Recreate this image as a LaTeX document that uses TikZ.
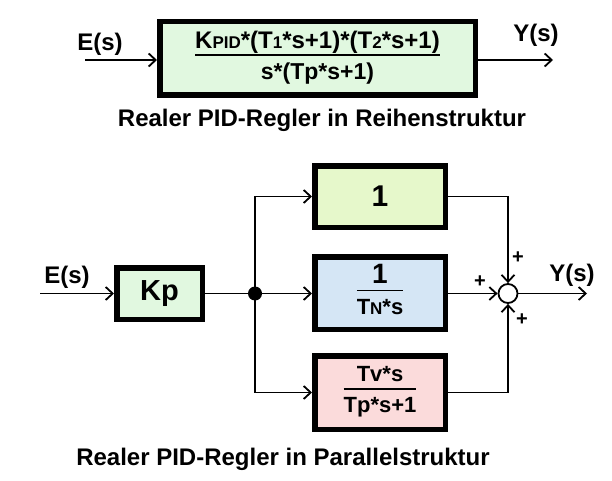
\documentclass[tikz,border=0pt]{standalone}
\usepackage{fontspec}
\setmainfont{Liberation Sans}
\usetikzlibrary{arrows.meta,shadows}
\definecolor{cgreen}{HTML}{E1F8E0}
\definecolor{cyel}{HTML}{E6F8CB}
\definecolor{cblue}{HTML}{D5E6F5}
\definecolor{cpink}{HTML}{FBDBDB}
\newcommand{\myfrac}[2]{\setlength\arrayrulewidth{1.8pt}\begin{tabular}{@{}c@{}}#1\\[-1pt]\hline\rule{0pt}{1.05em}#2\end{tabular}}
\newcommand{\sml}[1]{{\fontsize{17}{17}\selectfont #1}}
\newcommand{\fsz}[1]{\fontsize{#1}{#1}\selectfont}
\begin{document}
\begin{tikzpicture}[x=1pt,y=-1pt,
  blk/.style={draw=black, line width=5.5pt, inner sep=0pt,
    font=\bfseries\fontsize{22}{24}\selectfont,
    drop shadow={shadow xshift=2.5pt,shadow yshift=-2.5pt,fill=black,opacity=0.3}},
  conn/.style={line width=1.8pt, -{Straight Barb[length=7pt,width=13pt]}},
  plain/.style={line width=1.8pt},
  lbl/.style={font=\bfseries\fontsize{24}{26}\selectfont, inner sep=0pt},
  pls/.style={font=\bfseries\fontsize{20}{20}\selectfont, inner sep=0pt},
  captxt/.style={font=\bfseries\fontsize{24}{26}\selectfont, inner sep=0pt}]
\useasboundingbox (0,0) rectangle (612,481);
% --- series structure
\node[blk, fill=cgreen, minimum width=315.5pt, minimum height=73.5pt] (ser) at (317.5,58.5)
  {\myfrac{\fsz{24}K\sml{PID}*(T\sml{1}*s+1)*(T\sml{2}*s+1)}{\fsz{23}s*(Tp*s+1)}};
\node[lbl] (es1) at (100,44) {E(s)};
\node[lbl] (ys1) at (536,35) {Y(s)};
\coordinate (in1) at (85,60);
\coordinate (out1) at (553,60);
\draw[conn] (in1) -- (ser.west |- in1);
\draw[conn] (ser.east |- out1) -- (out1);
\node[captxt] (cap1) at (322,120) {Realer PID-Regler in Reihenstruktur};
% --- parallel structure
\node[blk, fill=cgreen, minimum width=85.5pt, minimum height=51.5pt, font=\bfseries\fontsize{29}{30}\selectfont] (kp) at (159.5,293.5) {Kp};
\node[blk, fill=cyel, minimum width=130.5pt, minimum height=61.5pt, font=\bfseries\fontsize{30}{30}\selectfont] (b1) at (380,196.5) {1};
\node[blk, fill=cblue, minimum width=130.5pt, minimum height=72.5pt] (b2) at (380,293) {\myfrac{\fsz{28}1}{T\sml{N}*s}};
\node[blk, fill=cpink, minimum width=130.5pt, minimum height=73.5pt] (b3) at (380,392.5) {\myfrac{Tv*s}{Tp*s+1}};
\node[circle, draw, line width=1.8pt, fill=white, minimum size=19pt, inner sep=0pt] (sum) at (508,293.5) {};
\node[circle, fill=black, minimum size=14pt, inner sep=0pt] (dot) at (255,293.5) {};
\coordinate (in2) at (40,293.5);
\coordinate (out2) at (587,293.5);
\draw[conn] (in2) -- (kp.west);
\draw[plain] (kp.east) -- (dot);
\draw[conn] (dot) -- (b2.west |- dot);
\draw[conn] (dot.center) |- (b1.west);
\draw[conn] (dot.center) |- (b3.west);
\draw[conn] (b1.east) -| (sum.north);
\draw[conn] (b2.east |- sum) -- (sum.west);
\draw[conn] (b3.east) -| (sum.south);
\draw[conn] (sum.east) -- (out2);
\node[lbl] (es2) at (67,277) {E(s)};
\node[lbl] (ys2) at (572,275) {Y(s)};
\node[pls] (p1) at (518,258) {+};
\node[pls] (p2) at (480,282) {+};
\node[pls] (p3) at (522,320) {+};
\node[captxt] (cap2) at (283,459) {Realer PID-Regler in Parallelstruktur};
\end{tikzpicture}
\end{document}
